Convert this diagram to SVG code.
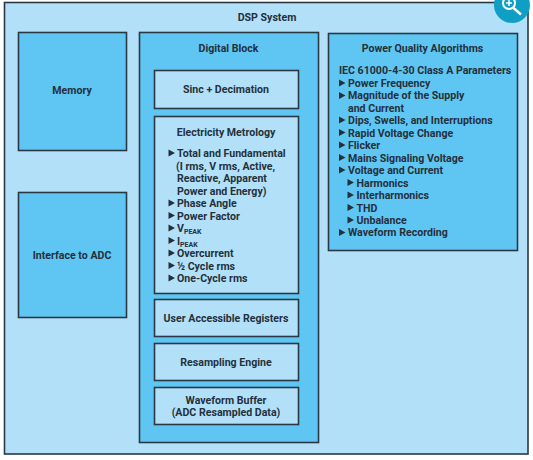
<svg xmlns="http://www.w3.org/2000/svg" width="533" height="460" viewBox="0 0 533 460">
<style>
.b{stroke:#2b3743;stroke-width:1.6}
.l{fill:#b3e0f9}
.d{fill:#5fc6f3}
text{font-family:Roboto,"Liberation Sans",sans-serif;font-weight:700;font-size:10.6px;fill:#24303b}
.m{text-anchor:middle}
.s{font-size:7px}
</style>
<defs><path id="t" d="M0-3.600L6.500 0L0 3.600Z" fill="#24303b"/></defs>
<rect width="533" height="460" fill="#fff"/>
<g id="dsp-system"><rect class="b l" x="4.500" y="2.500" width="523.500" height="451.500"/><text class="m" x="267" y="21">DSP System</text></g>
<g id="memory"><rect class="b d" x="18.500" y="32.500" width="108" height="118"/><text class="m" x="72" y="94">Memory</text></g>
<g id="interface"><rect class="b d" x="18.500" y="192.500" width="108" height="125"/><text class="m" x="72" y="259">Interface to ADC</text></g>
<g id="digital-block"><rect class="b d" x="139.500" y="32.500" width="179" height="410"/><text class="m" x="228.500" y="52">Digital Block</text></g>
<g id="sinc"><rect class="b l" x="154.500" y="70.500" width="144" height="38"/><text class="m" x="226" y="93">Sinc + Decimation</text></g>
<g id="metrology"><rect class="b l" x="154.500" y="116.500" width="144" height="177"/>
<text class="m" x="226" y="136">Electricity Metrology</text>
<use href="#t" x="168.500" y="153"/><text x="177" y="157">Total and Fundamental</text>
<text x="176" y="169.500">(I rms, V rms, Active,</text>
<text x="177" y="182">Reactive, Apparent</text>
<text x="177" y="194.500">Power and Energy)</text>
<use href="#t" x="168.500" y="203"/><text x="177" y="207">Phase Angle</text>
<use href="#t" x="168.500" y="215.500"/><text x="177" y="219.500">Power Factor</text>
<use href="#t" x="168.500" y="228"/><text x="177" y="232">V<tspan class="s" dy="1.500">PEAK</tspan></text>
<use href="#t" x="168.500" y="240.500"/><text x="177" y="245">I<tspan class="s" dy="1.500">PEAK</tspan></text>
<use href="#t" x="168.500" y="253"/><text x="177" y="257">Overcurrent</text>
<use href="#t" x="168.500" y="265.500"/><text x="177" y="269.500">½ Cycle rms</text>
<use href="#t" x="168.500" y="278"/><text x="177" y="282">One-Cycle rms</text>
</g>
<g id="registers"><rect class="b l" x="154.500" y="299.500" width="144" height="37"/><text class="m" x="226" y="322">User Accessible Registers</text></g>
<g id="resampling"><rect class="b l" x="154.500" y="343.500" width="144" height="37"/><text class="m" x="226" y="366">Resampling Engine</text></g>
<g id="waveform"><rect class="b l" x="154.500" y="387.500" width="144" height="37"/><text class="m" x="226" y="403.500">Waveform Buffer</text><text class="m" x="226" y="415.500">(ADC Resampled Data)</text></g>
<g id="pq"><rect class="b d" x="328.500" y="33.500" width="189" height="217"/>
<text class="m" x="422.500" y="52">Power Quality Algorithms</text>
<text x="339" y="74">IEC 61000-4-30 Class A Parameters</text>
<use href="#t" x="339" y="83"/><text x="348" y="87">Power Frequency</text>
<use href="#t" x="339" y="95.500"/><text x="348" y="99">Magnitude of the Supply</text>
<text x="348" y="111.500">and Current</text>
<use href="#t" x="339" y="120"/><text x="348" y="124">Dips, Swells, and Interruptions</text>
<use href="#t" x="339" y="132.500"/><text x="348" y="136.500">Rapid Voltage Change</text>
<use href="#t" x="339" y="145"/><text x="348" y="149">Flicker</text>
<use href="#t" x="339" y="157.500"/><text x="348" y="161.500">Mains Signaling Voltage</text>
<use href="#t" x="339" y="170"/><text x="348" y="174">Voltage and Current</text>
<use href="#t" x="347.500" y="182.500"/><text x="356.500" y="186.500">Harmonics</text>
<use href="#t" x="347.500" y="195"/><text x="356.500" y="199">Interharmonics</text>
<use href="#t" x="347.500" y="207.500"/><text x="356.500" y="211.500">THD</text>
<use href="#t" x="347.500" y="220"/><text x="356.500" y="224">Unbalance</text>
<use href="#t" x="339" y="232.500"/><text x="348" y="236">Waveform Recording</text>
</g>
<g id="zoom-icon"><circle cx="512" cy="5" r="18" fill="#0f9fc4"/><circle cx="509" cy="3" r="6" fill="none" stroke="#fff" stroke-width="2"/><path d="M513.500 8L521 14.500" stroke="#fff" stroke-width="2.500" fill="none"/><path d="M506 3H512M509 0V6" stroke="#fff" stroke-width="1.500"/></g>
</svg>
